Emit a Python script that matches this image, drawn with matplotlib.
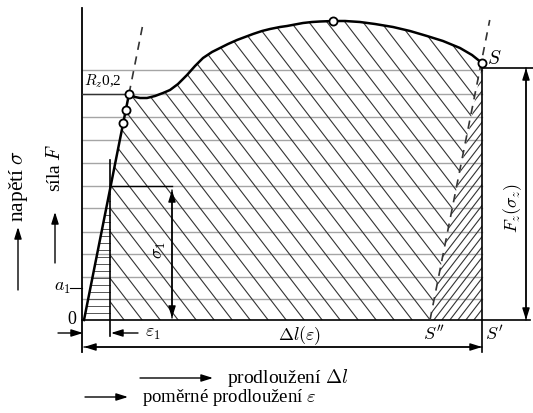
import matplotlib.pyplot as plt
import numpy as np
from matplotlib.patches import Polygon

plt.rcParams["font.family"] = ["Liberation Serif", "DejaVu Serif"]
plt.rcParams["mathtext.fontset"] = "cm"

# --- diagram geometry (pixel units, y downwards) ---
x0, y0 = 84, 320            # origin of the diagram
x_eps1 = 110                # epsilon_1 marker
x_S = 482                   # break point S
x_S2 = 430                  # S'' (plastic remainder)

# elastic line and marked points on it
elastic_x = [84, 129]
elastic_y = [320, 94]
marks_x = [123, 126, 129, 333, 482]
marks_y = [123, 110, 94, 21, 63]

# stress-strain curve after the yield point
curve_x = [129, 135, 140, 147, 155, 163, 170, 178, 187, 195, 203, 212, 220, 228,
           237, 245, 253, 262, 270, 280, 287, 295, 303, 312, 320, 333, 345, 360,
           375, 393, 410, 427, 443, 460, 472, 482]
curve_y = [94, 97, 98, 98, 96, 93, 90, 84, 75, 66, 58, 52, 48, 44,
           40, 37, 34, 31, 29, 27, 26, 24.5, 23, 22, 21.5, 21, 21, 22,
           24, 27, 31, 36, 41, 48, 55, 63]

# horizontal helper lines
grid_y = [70, 94, 117, 140, 163, 186, 208, 232, 254, 277, 299]


def main() -> None:
    fig = plt.figure(figsize=(5.33, 4.13), dpi=100)
    ax = fig.add_axes([0, 0, 1, 1])
    ax.set_xlim(0, 533)
    ax.set_ylim(413, 0)
    ax.axis("off")

    k = (elastic_x[1] - elastic_x[0]) / (elastic_y[0] - elastic_y[1])  # dx per dy

    # gray horizontal lines
    for y in grid_y:
        ax.plot([82, x_S], [y, y], color="#a5a5a5", lw=1.0, zorder=1)

    # dense horizontal hatch in elastic triangle
    y_top = y0 - (x_eps1 - x0) / k
    for y in np.arange(y0 - 7, y_top, -7):
        xl = x0 + (y0 - y) * k
        ax.plot([xl, x_eps1], [y, y], color="#555555", lw=0.7, zorder=2)

    # main diagonal hatched region
    poly = [(x_eps1, y0), (x_eps1, y_top), (elastic_x[1], elastic_y[1])]
    poly += list(zip(curve_x, curve_y))
    poly += [(x_S2, y0)]
    patch = Polygon(poly, closed=True, fill=False, lw=0)
    ax.add_patch(patch)
    for c in np.arange(-500, 700, 18):
        (ln,) = ax.plot([c, c + 400], [0, 520], color="#333333", lw=0.8, zorder=2)
        ln.set_clip_path(patch)

    # right triangle hatched the other way
    patch2 = Polygon([(x_S, 66), (x_S2, y0), (x_S, y0)], closed=True, fill=False, lw=0)
    ax.add_patch(patch2)
    for c in np.arange(0, 600, 8):
        (ln,) = ax.plot([c, c + 400], [520, 0], color="#333333", lw=0.8, zorder=2)
        ln.set_clip_path(patch2)

    # axes and helper lines
    ax.plot([82, 82], [8, 352], color="black", lw=1.3, zorder=3)
    ax.plot([82, 530], [y0, y0], color="black", lw=1.2, zorder=3)
    ax.plot([x_S, x_S], [63, 352], color="black", lw=1.2, zorder=3)
    ax.plot([x_S, 533], [68, 68], color="black", lw=1.2, zorder=3)
    ax.plot([x_eps1, x_eps1], [160, 336], color="black", lw=1.2, zorder=3)
    ax.plot([82, 125], [94, 94], color="#333333", lw=1.0, zorder=3)
    ax.plot([x_eps1, 172], [186, 186], color="black", lw=1.0, zorder=3)
    ax.plot([70, 82], [288, 288], color="black", lw=0.8, zorder=3)

    # elastic line, curve, dashed lines
    ax.plot(elastic_x, elastic_y, color="black", lw=1.8, zorder=4)
    ax.plot(curve_x, curve_y, color="black", lw=1.8, zorder=4,
            solid_joinstyle="round")
    ax.plot([129, 129 + 70 * k], [94, 24], color="#333333", lw=1.2, ls=(0, (5, 4)), zorder=4)
    ax.plot([x_S2, x_S2 + 300 * k], [y0, 20], color="#333333", lw=1.2, ls=(0, (5, 4)), zorder=4)
    ax.scatter(marks_x, marks_y, s=34, facecolor="white", edgecolor="black", lw=1.3, zorder=5)

    arr = dict(arrowstyle="-|>,head_length=0.7,head_width=0.22", color="black", lw=1.0,
               shrinkA=0, shrinkB=0)
    # sigma_1
    ax.annotate("", xy=(172, 190), xytext=(172, 318), arrowprops=arr)
    ax.annotate("", xy=(172, 318), xytext=(172, 190), arrowprops=arr)
    # epsilon_1
    ax.annotate("", xy=(83, 333), xytext=(58, 333), arrowprops=arr)
    ax.annotate("", xy=(111, 333), xytext=(138, 333), arrowprops=arr)
    # delta l
    ax.annotate("", xy=(84, 347), xytext=(x_S, 347), arrowprops=arr)
    ax.annotate("", xy=(x_S, 347), xytext=(84, 347), arrowprops=arr)
    # F_z
    ax.annotate("", xy=(526, 68), xytext=(526, 320), arrowprops=arr)
    ax.annotate("", xy=(526, 320), xytext=(526, 68), arrowprops=arr)
    # legend arrows
    ax.annotate("", xy=(18, 227), xytext=(18, 290), arrowprops=arr)
    ax.annotate("", xy=(55, 212), xytext=(55, 263), arrowprops=arr)
    ax.annotate("", xy=(213, 378), xytext=(140, 378), arrowprops=arr)
    ax.annotate("", xy=(128, 397), xytext=(85, 397), arrowprops=arr)

    fs = 13
    ax.text(84, 90, r"$R_z$0,2", fontsize=11, ha="left", va="bottom", zorder=6)
    ax.text(72, 320, "0", fontsize=fs, ha="center", va="center")
    ax.text(62, 288, r"$a_1$", fontsize=fs, ha="center", va="center")
    ax.text(145, 333, r"$\varepsilon_1$", fontsize=fs, ha="left", va="center")
    ax.text(160, 250, r"$\sigma_1$", fontsize=fs, rotation=90, ha="center", va="center")
    ax.text(300, 336, r"$\Delta l(\varepsilon)$", fontsize=fs, ha="center", va="center")
    ax.text(434, 334, r"$S''$", fontsize=fs, ha="center", va="center")
    ax.text(494, 334, r"$S'$", fontsize=fs, ha="center", va="center")
    ax.text(487, 59, r"$S$", fontsize=fs + 1, ha="left", va="center")
    ax.text(513, 208, r"$F_z(\sigma_z)$", fontsize=fs, rotation=90, ha="center", va="center")
    ax.text(18, 186, r"napětí $\sigma$", fontsize=15.5, rotation=90, ha="center", va="center")
    ax.text(55, 168, r"síla $F$", fontsize=14, rotation=90, ha="center", va="center")
    ax.text(227, 378, r"prodloužení $\Delta l$", fontsize=14, ha="left", va="center")
    ax.text(142, 397, r"poměrné prodloužení $\varepsilon$", fontsize=13.5, ha="left", va="center")

    fig.savefig("out.png", dpi=100)


if __name__ == "__main__":
    main()
